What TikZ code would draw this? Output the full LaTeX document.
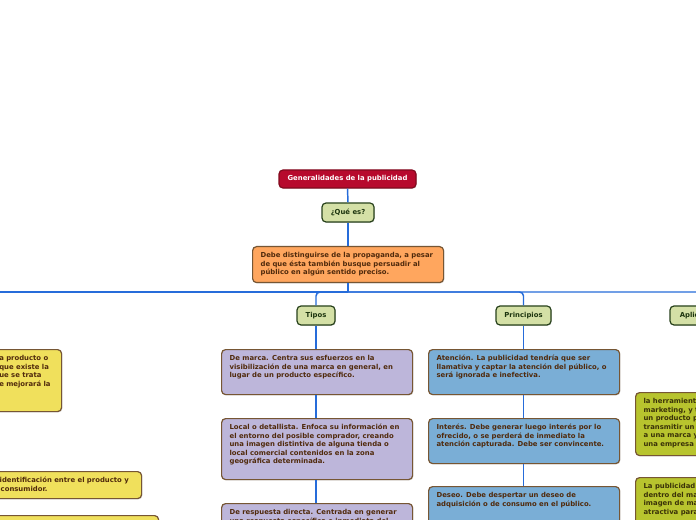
\documentclass[tikz,border=0pt]{standalone}
\usepackage{fontspec}
\setmainfont{DejaVu Sans}
\usetikzlibrary{shadows}
\definecolor{connblue}{RGB}{38,108,218}
\definecolor{titlered}{RGB}{183,10,45}
\definecolor{titleborder}{RGB}{130,10,30}
\definecolor{smallgreen}{RGB}{212,224,166}
\definecolor{smallgreenb}{RGB}{40,66,28}
\definecolor{smallgreent}{RGB}{28,52,14}
\definecolor{orangef}{RGB}{255,166,94}
\definecolor{purplef}{RGB}{189,182,218}
\definecolor{bluef}{RGB}{122,174,214}
\definecolor{yellowf}{RGB}{240,224,92}
\definecolor{olivef}{RGB}{184,196,46}
\definecolor{olivet}{RGB}{58,50,8}
\definecolor{brownb}{RGB}{118,86,52}
\definecolor{brownt}{RGB}{80,42,12}
\newcommand\bx[3]{\parbox[c][\dimexpr #2pt*3/4-7.2pt\relax][t]{\dimexpr #1pt*3/4-12pt\relax}{\raggedright\strut #3}}
\begin{document}
\begin{tikzpicture}[x=0.75pt,y=-0.75pt,
  font=\fontsize{5.15pt}{6.45pt}\selectfont\bfseries,
  base/.style={draw, line width=0.9pt, rounded corners=3pt, inner xsep=6pt, inner ysep=3.6pt,
    drop shadow={shadow xshift=0.6pt, shadow yshift=-0.6pt, opacity=0.3}},
  small/.style={base, inner sep=0pt, minimum height=14.25pt, fill=smallgreen, draw=smallgreenb, text=smallgreent},
  title/.style={base, inner sep=0pt, minimum width=102.75pt, minimum height=13.5pt, fill=titlered, draw=titleborder, text=white},
  orangebox/.style={base, anchor=north west, fill=orangef, draw=brownb, text=brownt},
  purplebox/.style={base, anchor=north west, fill=purplef, draw=brownb, text=brownt},
  bluebox/.style={base, anchor=north west, fill=bluef, draw=brownb, text=brownt},
  yellowbox/.style={base, anchor=north west, fill=yellowf, draw=brownb, text=brownt},
  olivebox/.style={base, anchor=north west, fill=olivef, draw=brownb, text=olivet},
  conn/.style={draw=connblue, line width=1.1pt}
]
\useasboundingbox (0,0) rectangle (696,520);
\fill[white] (0,0) rectangle (696,520);
\clip (0,0) rectangle (696,520);

% top chain
\node[title] (title) at (347.5,179) {Generalidades de la publicidad};
\node[small, minimum width=39pt] (que) at (348,212.5) {¿Qué es?};
\node[orangebox] (def) at (252,246) {\bx{191}{36}{Debe distinguirse de la propaganda, a pesar\\de que ésta también busque persuadir al\\público en algún sentido preciso.}};

% branch headers
\node[small, minimum width=28.5pt] (tipos) at (316,315.5) {Tipos};
\node[small, minimum width=41.25pt] (princ) at (523.5,315.5) {Principios};
\node[small, minimum width=51pt] (aplic) at (704,315.5) {Aplicaciones};

% Tipos column
\node[purplebox] (t1) at (221,349) {\bx{191}{45}{De marca. Centra sus esfuerzos en la\\visibilización de una marca en general, en\\lugar de un producto específico.}};
\node[purplebox] (t2) at (221,418) {\bx{191}{61}{Local o detallista. Enfoca su información en\\el entorno del posible comprador, creando\\una imagen distintiva de alguna tienda o\\local comercial contenidos en la zona\\geográfica determinada.}};
\node[purplebox] (t3) at (221,503) {\bx{191}{45}{De respuesta directa. Centrada en generar\\una respuesta específica e inmediata del cliente}};

% Principios column
\node[bluebox] (p1) at (428,349) {\bx{191}{45}{Atención. La publicidad tendría que ser\\llamativa y captar la atención del público, o\\será ignorada e inefectiva.}};
\node[bluebox] (p2) at (428,418) {\bx{191}{45}{Interés. Debe generar luego interés por lo\\ofrecido, o se perderá de inmediato la\\atención capturada. Debe ser convincente.}};
\node[bluebox] (p3) at (428,486) {\bx{191}{45}{Deseo. Debe despertar un deseo de\\adquisición o de consumo en el público.}};

% left column (cut by the frame)
\node[yellowbox] (y1) at (-130,349) {\bx{191}{62}{\hspace*{90.5pt}a producto o\\\hspace*{90.5pt}que existe la\\\hspace*{90.5pt}ue se trata\\\hspace*{90.5pt}e mejorará la}};
\node[yellowbox] (y2) at (-50,471) {\bx{191}{27}{\hspace*{30.8pt}identificación entre el producto y\\\hspace*{31.6pt}consumidor.}};
\node[yellowbox] (y3) at (-33,515) {\bx{191}{40}{}};

% right column (cut by the frame)
\node[olivebox] (g1) at (635,392) {\bx{191}{63}{la herramienta de\\marketing, y tiene\\un producto para\\transmitir un mensaje\\a una marca y\\una empresa}};
\node[olivebox] (g2) at (635,477) {\bx{191}{62}{La publicidad\\dentro del marketing\\imagen de marca\\atractiva para}};

% connectors
\coordinate (bus) at (348,292);
\coordinate (busleft) at (-10,292);
\draw[conn] (title.south) -- (que.north);
\draw[conn] (que.south) -- (que.south |- def.north);
\draw[conn] (que.south |- def.south) -- (bus);
\draw[conn] (bus) -- (busleft);
\draw[conn, rounded corners=3pt] (bus) -| (tipos.north);
\draw[conn, rounded corners=3pt] (bus) -| (princ.north);
\draw[conn, rounded corners=3pt] (bus) -| (aplic.north);
\draw[conn] (tipos.south) -- (tipos.south |- t1.north);
\draw[conn] (tipos.south |- t1.south) -- (tipos.south |- t2.north);
\draw[conn] (tipos.south |- t2.south) -- (tipos.south |- t3.north);
\draw[conn] (princ.south) -- (princ.south |- p1.north);
\draw[conn] (princ.south |- p1.south) -- (princ.south |- p2.north);
\draw[conn] (princ.south |- p2.south) -- (princ.south |- p3.north);
\end{tikzpicture}
\end{document}
